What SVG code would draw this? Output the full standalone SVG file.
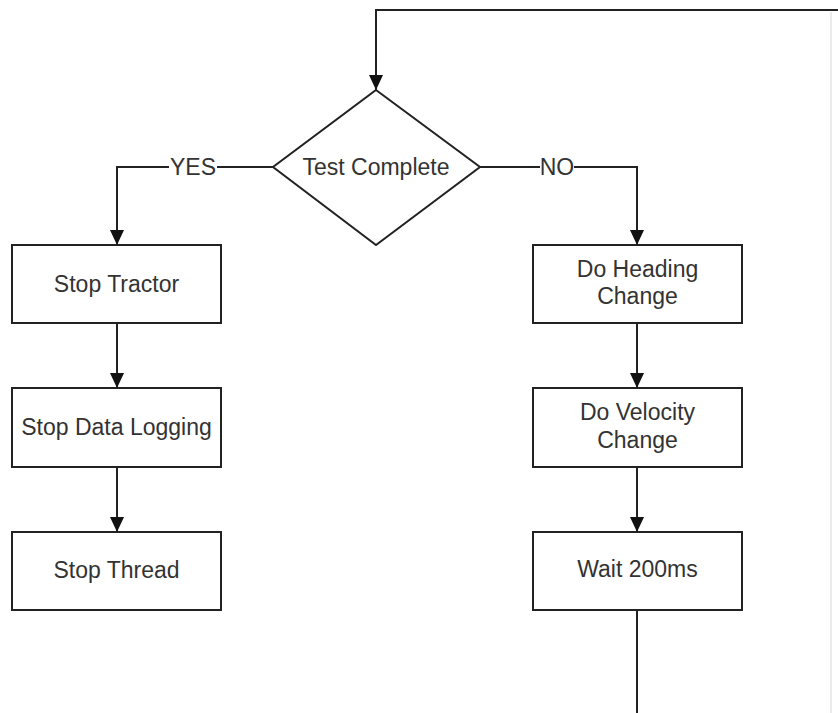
<svg xmlns="http://www.w3.org/2000/svg" width="838" height="713" viewBox="0 0 838 713">
<style>
.box{fill:#fff;stroke:#222;stroke-width:2}
.lbl{font-family:"Liberation Sans",Arial,sans-serif;font-size:23px;fill:#333;text-anchor:middle}
.con{fill:none;stroke:#222;stroke-width:2}
</style>
<defs>
<marker id="ah" markerUnits="userSpaceOnUse" markerWidth="15" markerHeight="16" refX="15" refY="7" orient="auto" viewBox="0 0 15 14">
<path d="M0,0 L15,7 L0,14 Z" fill="#111"/>
</marker>
</defs>
<rect width="838" height="713" fill="#fff"/>
<g id="connectors">
<line x1="831" y1="12" x2="831" y2="713" stroke="#e4e4e4" stroke-width="1.5"/>
<path class="con" d="M838,10 H376 V90" marker-end="url(#ah)"/>
<path class="con" d="M273,167 H117 V245" marker-end="url(#ah)"/>
<path class="con" d="M480,167 H637 V245" marker-end="url(#ah)"/>
<path class="con" d="M117,323 V388" marker-end="url(#ah)"/>
<path class="con" d="M117,467 V532" marker-end="url(#ah)"/>
<path class="con" d="M637,323 V388" marker-end="url(#ah)"/>
<path class="con" d="M637,467 V532" marker-end="url(#ah)"/>
<path class="con" d="M637,610 V713"/>
<rect x="169" y="155" width="48" height="22" fill="#fff"/>
<text class="lbl" x="193" y="175">YES</text>
<rect x="540" y="155" width="34" height="22" fill="#fff"/>
<text class="lbl" x="557" y="175">NO</text>
</g>
<g id="test-complete">
<polygon class="box" points="376,90 480,167 376,245 273,167"/>
<text class="lbl" x="376" y="175">Test Complete</text>
</g>
<g id="stop-tractor">
<rect class="box" x="12" y="245" width="209" height="78"/>
<text class="lbl" x="116.5" y="292">Stop Tractor</text>
</g>
<g id="stop-data-logging">
<rect class="box" x="12" y="388" width="209" height="79"/>
<text class="lbl" x="116.5" y="435">Stop Data Logging</text>
</g>
<g id="stop-thread">
<rect class="box" x="12" y="532" width="209" height="78"/>
<text class="lbl" x="116.5" y="578">Stop Thread</text>
</g>
<g id="do-heading-change">
<rect class="box" x="533" y="245" width="209" height="78"/>
<text class="lbl" x="637.5" y="277">Do Heading</text>
<text class="lbl" x="637.5" y="304">Change</text>
</g>
<g id="do-velocity-change">
<rect class="box" x="533" y="388" width="209" height="79"/>
<text class="lbl" x="637.5" y="420">Do Velocity</text>
<text class="lbl" x="637.5" y="448">Change</text>
</g>
<g id="wait-200ms">
<rect class="box" x="533" y="532" width="209" height="78"/>
<text class="lbl" x="637.5" y="577">Wait 200ms</text>
</g>
</svg>
